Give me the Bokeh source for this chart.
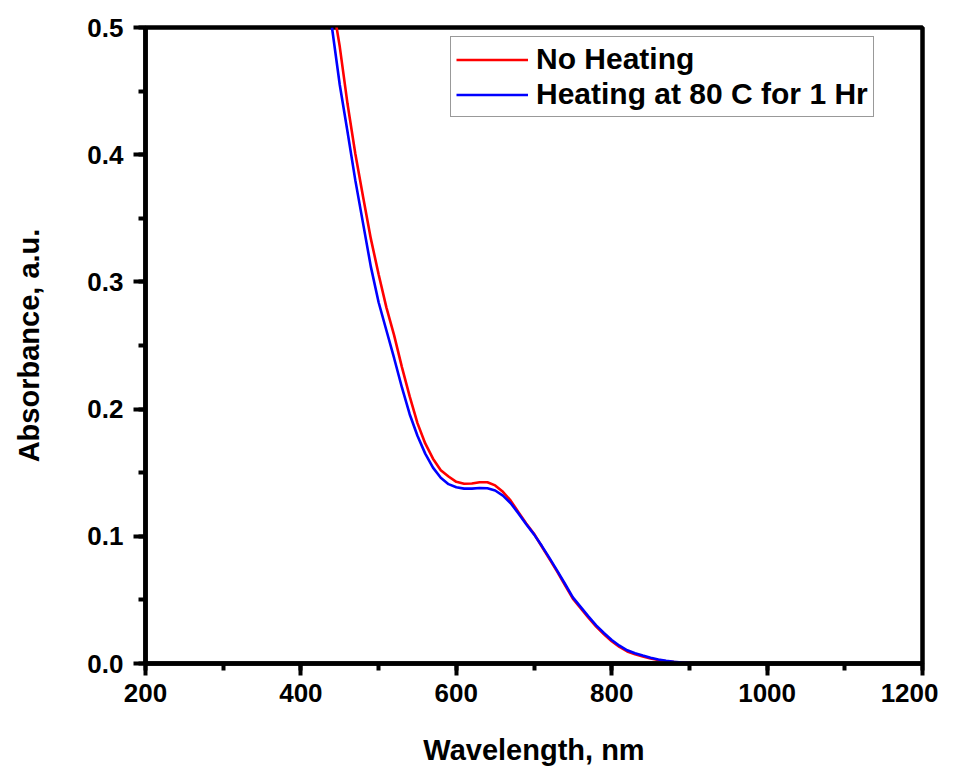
from bokeh.plotting import figure
from bokeh.models import SingleIntervalTicker, NumeralTickFormatter, Range1d
from bokeh.embed import file_html
from bokeh.resources import INLINE

# Wavelength (nm) and absorbance (a.u.)
wl_red = [440, 450, 460, 470, 480, 490, 500, 510, 520, 530, 540, 550, 560, 570, 580,
          590, 600, 610, 620, 630, 640, 650, 660, 670, 680, 690, 700, 710, 720, 730,
          740, 750, 760, 770, 780, 790, 800, 810, 820, 830, 840, 850, 860, 870, 880,
          890, 900, 920, 950, 1000, 1050, 1100]
abs_red = [0.522, 0.485, 0.440, 0.401, 0.367, 0.334, 0.306, 0.280, 0.258, 0.233, 0.210,
           0.189, 0.173, 0.161, 0.152, 0.147, 0.1428, 0.1413, 0.1415, 0.1425, 0.1425,
           0.1400, 0.1350, 0.1280, 0.1190, 0.1100, 0.1020, 0.0920, 0.0820, 0.0720,
           0.0615, 0.0510, 0.0435, 0.0360, 0.0290, 0.0230, 0.0175, 0.0130, 0.0095,
           0.0072, 0.0056, 0.0040, 0.0028, 0.0018, 0.0012, 0.0006, 0.0003, 0.0001,
           0.0, 0.0, 0.0, 0.0]

wl_blue = [440, 450, 460, 470, 480, 490, 500, 510, 520, 530, 540, 550, 560, 570, 580,
           590, 600, 610, 620, 630, 640, 650, 660, 670, 680, 690, 700, 710, 720, 730,
           740, 750, 760, 770, 780, 790, 800, 810, 820, 830, 840, 850, 860, 870, 880,
           890, 900, 920, 950, 1000, 1050, 1100]
abs_blue = [0.500, 0.455, 0.418, 0.380, 0.346, 0.312, 0.284, 0.262, 0.240, 0.217, 0.196,
            0.179, 0.165, 0.154, 0.146, 0.141, 0.1385, 0.1375, 0.1375, 0.1380, 0.1378,
            0.1360, 0.1320, 0.1260, 0.1180, 0.1095, 0.1015, 0.0925, 0.0828, 0.0728,
            0.0625, 0.0520, 0.0445, 0.0370, 0.0300, 0.0240, 0.0185, 0.0140, 0.0104,
            0.0080, 0.0062, 0.0045, 0.0032, 0.0021, 0.0014, 0.0008, 0.0004, 0.0002,
            0.0001, 0.0, 0.0, 0.0]

label_red = "No Heating"
label_blue = "Heating at 80 C for 1 Hr"
x_title = "Wavelength, nm"
y_title = "Absorbance, a.u."

FONT = "Liberation Sans"

p = figure(frame_width=777, frame_height=636,
           min_border_left=145, min_border_right=16,
           min_border_top=27, min_border_bottom=92,
           x_range=Range1d(200, 1200), y_range=Range1d(0, 0.5),
           output_backend="svg", toolbar_location=None,
           background_fill_color="white", border_fill_color="white")

p.line(wl_red, abs_red, line_color="#FF0000", line_width=2.6, legend_label=label_red)
p.line(wl_blue, abs_blue, line_color="#0000FF", line_width=2.6, legend_label=label_blue)

p.xgrid.visible = False
p.ygrid.visible = False
p.outline_line_color = "black"
p.outline_line_width = 4.5
p.outline_line_alpha = 1.0

p.xaxis.ticker = SingleIntervalTicker(interval=200, num_minor_ticks=2)
p.yaxis.ticker = SingleIntervalTicker(interval=0.1, num_minor_ticks=2)
p.yaxis.formatter = NumeralTickFormatter(format="0.0")

for ax in (p.xaxis[0], p.yaxis[0]):
    ax.axis_line_width = 4.5
    ax.axis_line_color = "black"
    ax.major_tick_line_width = 4
    ax.minor_tick_line_width = 4
    ax.major_tick_in = 0
    ax.minor_tick_in = 0
    ax.major_tick_out = 12
    ax.minor_tick_out = 7
    ax.major_label_text_font = FONT
    ax.major_label_text_font_style = "bold"
    ax.major_label_text_font_size = "26px"
    ax.major_label_text_color = "black"
    ax.axis_label_text_font = FONT
    ax.axis_label_text_font_style = "bold"
    ax.axis_label_text_font_size = "29px"
    ax.axis_label_text_color = "black"

p.xaxis.axis_label = x_title
p.yaxis.axis_label = y_title
p.xaxis.major_label_standoff = 8
p.yaxis.major_label_standoff = 10
p.xaxis.axis_label_standoff = 29
p.yaxis.axis_label_standoff = 39

lg = p.legend[0]
lg.location = (305, 546)
lg.label_text_font = FONT
lg.label_text_font_style = "bold"
lg.label_text_font_size = "30px"
lg.label_text_color = "black"
lg.glyph_width = 72
lg.glyph_height = 33
lg.label_height = 33
lg.label_standoff = 8
lg.padding = 5
lg.spacing = 1
lg.margin = 0
lg.border_line_color = "#333333"
lg.border_line_width = 1.5
lg.background_fill_alpha = 1.0

open("out.html", "w").write(file_html(p, INLINE))
